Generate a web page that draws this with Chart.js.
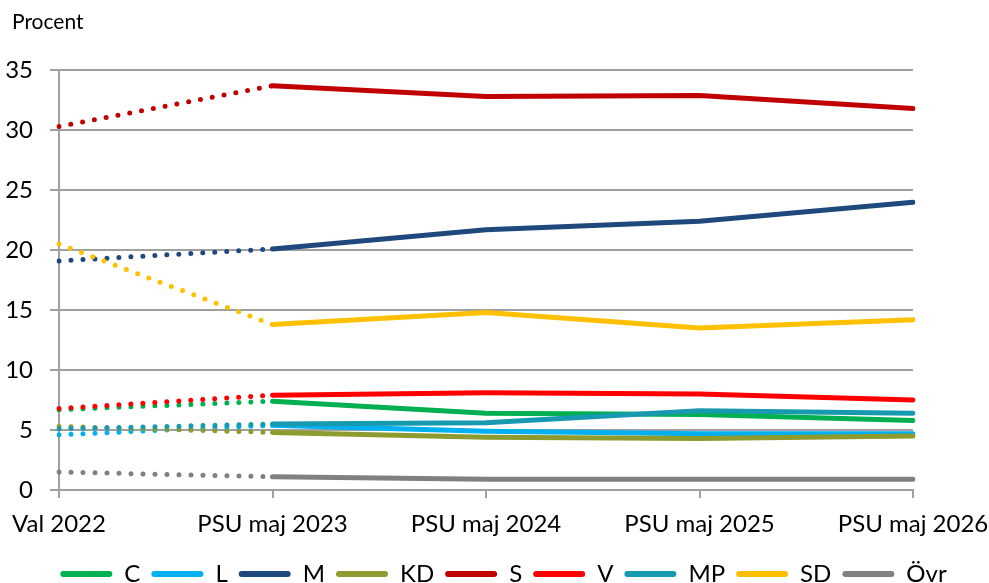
<!DOCTYPE html>
<html>
<head>
<meta charset="utf-8">
<script src="https://cdn.jsdelivr.net/npm/chart.js@4"></script>
<style>
  html, body { margin: 0; padding: 0; background: #fff; }
  #wrap { width: 989px; height: 583px; position: relative; }
</style>
</head>
<body>
<div id="wrap"><canvas id="c"></canvas></div>
<script>
const categories = ['Val 2022', 'PSU maj 2023', 'PSU maj 2024', 'PSU maj 2025', 'PSU maj 2026'];
const seriesNames = ['C', 'L', 'M', 'KD', 'S', 'V', 'MP', 'SD', 'Övr'];
const C   = [6.7, 7.4, 6.4, 6.3, 5.8];
const L   = [4.6, 5.4, 4.9, 4.7, 4.7];
const M   = [19.1, 20.1, 21.7, 22.4, 24.0];
const KD  = [5.3, 4.8, 4.4, 4.3, 4.5];
const S   = [30.3, 33.7, 32.8, 32.9, 31.8];
const V   = [6.8, 7.9, 8.1, 8.0, 7.5];
const MP  = [5.1, 5.5, 5.6, 6.6, 6.4];
const SD  = [20.5, 13.8, 14.8, 13.5, 14.2];
const OVR = [1.5, 1.1, 0.9, 0.9, 0.9];
const yTicks = [0, 5, 10, 15, 20, 25, 30, 35];

const seriesValues = [C, L, M, KD, S, V, MP, SD, OVR];
const colors = ['#00b050', '#00b0f0', '#1f497d', '#8e9b2e', '#c00000', '#ff0000', '#1799b0', '#ffc000', '#808080'];

const FONT = 'Lato, "Open Sans", sans-serif';
const GRID = '#a0a0a0';

const datasets = seriesNames.map((name, i) => ({
  label: name,
  data: seriesValues[i],
  borderColor: colors[i],
  backgroundColor: colors[i],
  borderWidth: 5,
  borderCapStyle: 'round',
  borderJoinStyle: 'round',
  pointRadius: 0,
  pointHoverRadius: 0,
  tension: 0,
  fill: false,
  order: seriesNames.length - i,
  segment: {
    borderDash: ctx => ctx.p0DataIndex === 0 ? [0, 12] : undefined
  }
}));

// nudge the title and legend boxes to their positions in the reference
const boxShift = {
  id: 'boxShift',
  afterLayout(chart) {
    if (chart.titleBlock) { chart.titleBlock.left += 12; }
    if (chart.legend) { chart.legend.left += 9; chart.legend.right += 9; }
  }
};

new Chart(document.getElementById('c'), {
  type: 'line',
  data: { labels: categories, datasets },
  plugins: [boxShift],
  options: {
    responsive: true,
    maintainAspectRatio: false,
    animation: false,
    events: [],
    layout: { padding: { left: 0, right: 0, top: 0, bottom: -13 } },
    scales: {
      x: {
        type: 'category',
        offset: false,
        grid: { drawOnChartArea: false, drawTicks: true, tickLength: 8, color: GRID, lineWidth: 2 },
        border: { display: true, color: GRID, width: 2 },
        ticks: { color: '#000', font: { family: FONT, size: 24 }, padding: 12, maxRotation: 0, autoSkip: false },
        afterFit: s => { s.height = 61; s.paddingLeft = 0; s.paddingRight = 76; }
      },
      y: {
        min: 0, max: 35,
        grid: { color: GRID, lineWidth: 2, tickLength: 9, drawTicks: true },
        border: { display: true, color: GRID, width: 2 },
        afterBuildTicks: s => { s.ticks = yTicks.map(v => ({ value: v })); },
        ticks: { color: '#000', font: { family: FONT, size: 24 }, padding: 17 },
        afterFit: s => { s.width = 59; }
      }
    },
    plugins: {
      title: {
        display: true,
        text: 'Procent',
        align: 'start',
        color: '#000',
        font: { family: FONT, size: 21, weight: 'normal' },
        padding: { top: 10, bottom: 35 }
      },
      legend: {
        position: 'bottom',
        labels: {
          color: '#000',
          font: { family: FONT, size: 24 },
          boxWidth: 52,
          boxHeight: 6,
          padding: 11,
          useBorderRadius: true,
          borderRadius: 3,
          sort: (a, b) => a.datasetIndex - b.datasetIndex,
          generateLabels: chart => Chart.defaults.plugins.legend.labels.generateLabels(chart).map(it => Object.assign(it, { lineWidth: 0, lineDash: [] }))
        }
      },
      tooltip: { enabled: false }
    }
  }
});
</script>
</body>
</html>
